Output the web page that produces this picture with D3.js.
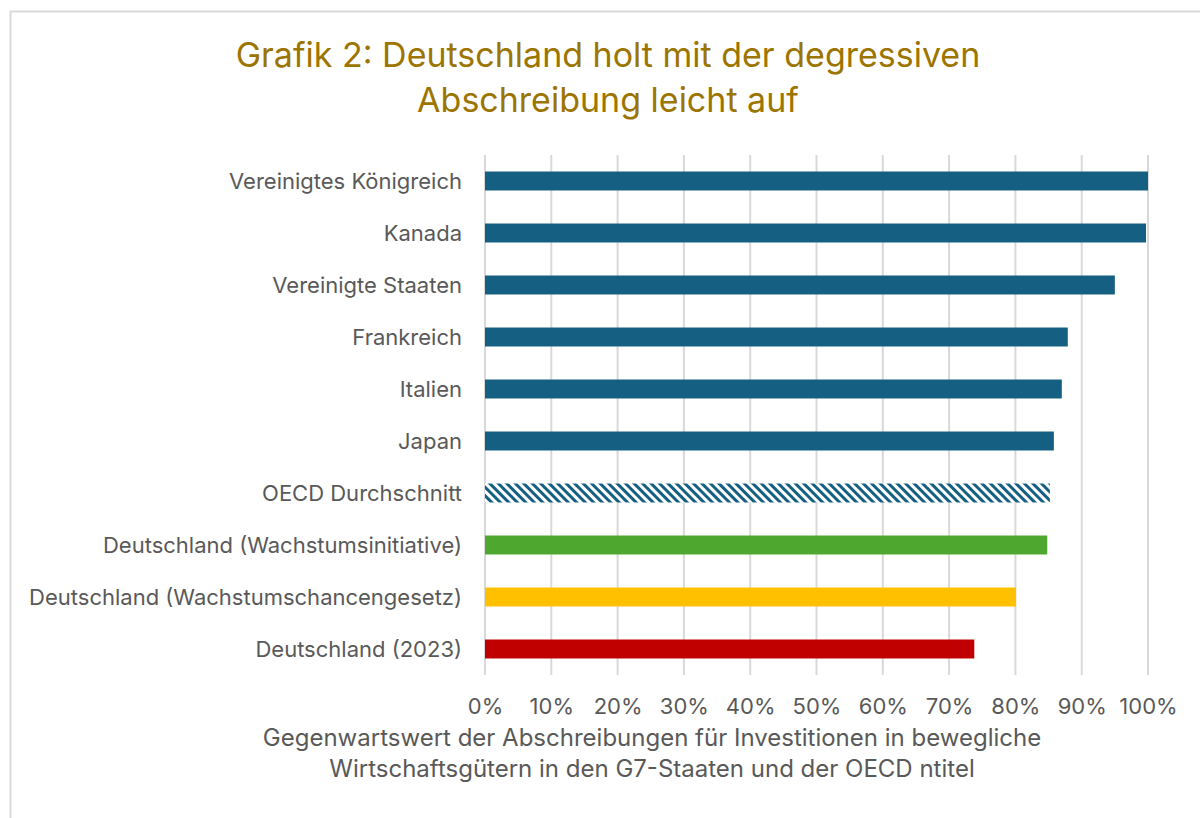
<!DOCTYPE html>
<html>
<head>
<meta charset="utf-8">
<script src="https://cdn.jsdelivr.net/npm/d3@7"></script>
<style>
  body { margin: 0; background: #fff; }
  svg { display: block; font-family: Inter, "Open Sans", sans-serif; }
</style>
</head>
<body>
<div id="chart"></div>
<script>
// categories top to bottom
var categories = [
  "Vereinigtes Königreich",
  "Kanada",
  "Vereinigte Staaten",
  "Frankreich",
  "Italien",
  "Japan",
  "OECD Durchschnitt",
  "Deutschland (Wachstumsinitiative)",
  "Deutschland (Wachstumschancengesetz)",
  "Deutschland (2023)"
];
// values in percent
var values = [100, 99.7, 95.0, 87.9, 87.0, 85.8, 85.2, 84.8, 80.1, 73.8];
var barColors = ["#156082", "#156082", "#156082", "#156082", "#156082", "#156082",
                 "url(#hatch)", "#4EA72E", "#FFC000", "#C00000"];
var tickValues = [0, 10, 20, 30, 40, 50, 60, 70, 80, 90, 100];
var titleLines = ["Grafik 2: Deutschland holt mit der degressiven", "Abschreibung leicht auf"];
var axisTitleLines = ["Gegenwartswert der Abschreibungen für Investitionen in bewegliche",
                      "Wirtschaftsgütern in den G7-Staaten und der OECD ntitel"];

var W = 1200, H = 818;
var margin = {left: 485, right: 52, top: 155, bottom: 143};

var svg = d3.select("#chart").append("svg")
  .attr("width", W).attr("height", H);

// hatch pattern for OECD average
var defs = svg.append("defs");
var pat = defs.append("pattern")
  .attr("id", "hatch")
  .attr("patternUnits", "userSpaceOnUse")
  .attr("width", 6).attr("height", 6)
  .attr("patternTransform", "rotate(45)");
pat.append("rect").attr("width", 6).attr("height", 6).attr("fill", "#fff");
pat.append("rect").attr("width", 6).attr("height", 3).attr("fill", "#156082");

// chart border
svg.append("rect")
  .attr("x", 10.5).attr("y", 11.5)
  .attr("width", W).attr("height", H)
  .attr("fill", "none")
  .attr("stroke", "#d9d9d9")
  .attr("stroke-width", 2);

var x = d3.scaleLinear().domain([0, 100]).range([margin.left, W - margin.right]);
var y = d3.scaleBand().domain(categories)
  .range([margin.top, H - margin.bottom])
  .paddingInner(0.635).paddingOuter(0.3175);

// gridlines
svg.append("g").selectAll("line")
  .data(tickValues).enter()
  .append("line")
  .attr("x1", function(d){ return x(d); })
  .attr("x2", function(d){ return x(d); })
  .attr("y1", margin.top)
  .attr("y2", H - margin.bottom)
  .attr("stroke", "#d9d9d9")
  .attr("stroke-width", 2);

// bars
svg.append("g").selectAll("rect")
  .data(values).enter()
  .append("rect")
  .attr("x", x(0))
  .attr("y", function(d, i){ return y(categories[i]); })
  .attr("width", function(d){ return x(d) - x(0); })
  .attr("height", y.bandwidth())
  .attr("fill", function(d, i){ return barColors[i]; });

// category labels
svg.append("g").selectAll("text")
  .data(categories).enter()
  .append("text")
  .attr("x", margin.left - 23)
  .attr("y", function(d){ return y(d) + y.bandwidth() / 2; })
  .attr("dy", "0.35em")
  .attr("text-anchor", "end")
  .attr("fill", "#595959")
  .style("font-size", "22px")
  .text(function(d){ return d; });

// x axis tick labels
var xAxis = d3.axisBottom(x)
  .tickValues(tickValues)
  .tickSize(0)
  .tickPadding(0)
  .tickFormat(function(d){ return d + "%"; });
var gx = svg.append("g")
  .attr("transform", "translate(0," + (H - margin.bottom + 23) + ")")
  .call(xAxis);
gx.select(".domain").remove();
gx.selectAll("text")
  .attr("fill", "#595959")
  .style("font-size", "22px")
  .style("font-family", "Inter, 'Open Sans', sans-serif");

// title
svg.append("g").selectAll("text")
  .data(titleLines).enter()
  .append("text")
  .attr("x", 608)
  .attr("y", function(d, i){ return 67 + i * 45; })
  .attr("text-anchor", "middle")
  .attr("fill", "#9C7500")
  .style("font-size", "34px")
  .text(function(d){ return d; });

// axis title
svg.append("g").selectAll("text")
  .data(axisTitleLines).enter()
  .append("text")
  .attr("x", 652)
  .attr("y", function(d, i){ return 746 + i * 31; })
  .attr("text-anchor", "middle")
  .attr("fill", "#595959")
  .style("font-size", "24px")
  .text(function(d){ return d; });
</script>
</body>
</html>
